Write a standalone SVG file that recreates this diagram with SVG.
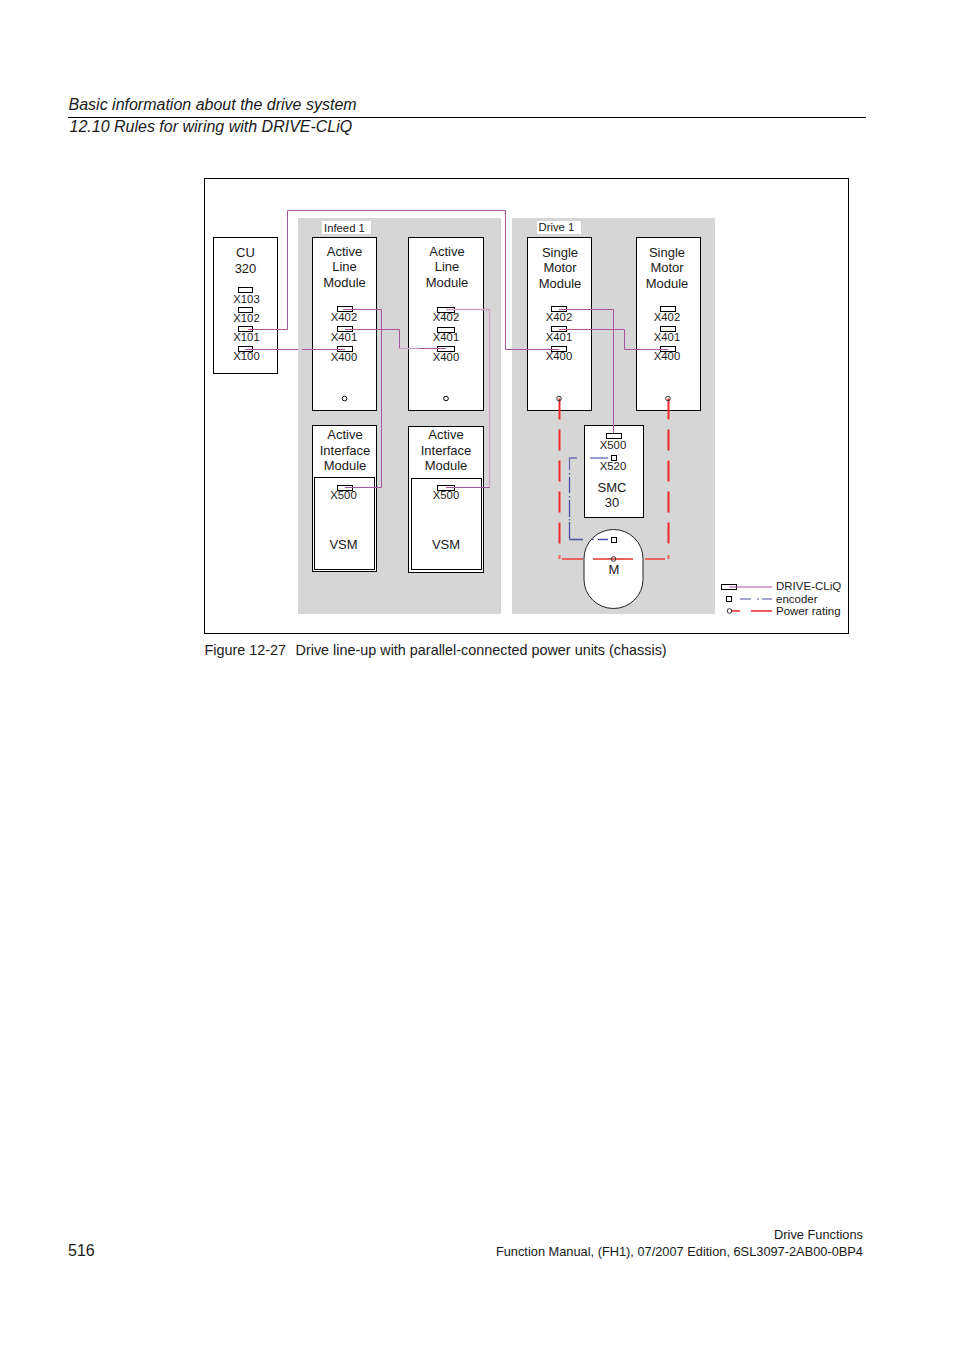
<svg xmlns="http://www.w3.org/2000/svg" width="954" height="1350" viewBox="0 0 954 1350">
<style>
text{font-family:"Liberation Sans",Arial,sans-serif;fill:#1a1a1a}
.n{font-size:13px;text-anchor:middle}
.p{font-size:11.300px;text-anchor:middle}
.l{font-size:11.500px}
.b{fill:#fff;stroke:#000;stroke-width:1}
.c{fill:#fff;stroke:#000;stroke-width:1}
.w{fill:none;stroke:#a9539b;stroke-width:1}
.wl{fill:none;stroke:#cda3c6;stroke-width:1.300}
.r{fill:none;stroke:#ee2a2a;stroke-width:2;stroke-dasharray:21 10}
.rh{fill:none;stroke:#e8645f;stroke-width:2}
.e{fill:none;stroke:#4a4fa8;stroke-width:1.300}
.t{fill:none;stroke:#000;stroke-width:1}
</style>
<rect width="954" height="1350" fill="#fff"/>
<g id="header">
<text x="68.500" y="110" font-size="16" font-style="italic">Basic information about the drive system</text>
<line x1="68" y1="117.500" x2="866" y2="117.500" stroke="#000" stroke-width="1"/>
<text x="69.500" y="132" font-size="16" font-style="italic">12.10 Rules for wiring with DRIVE-CLiQ</text>
</g>
<rect id="frame" x="204.500" y="178.500" width="644" height="455" fill="#fff" stroke="#000" stroke-width="1"/>
<g id="groups">
<rect x="298" y="218" width="203" height="396" fill="#d6d6d6"/>
<rect x="512" y="218" width="203" height="396" fill="#d6d6d6"/>
<rect x="322" y="221" width="49" height="13" fill="#fff"/>
<text x="324" y="232" font-size="11.300">Infeed 1</text>
<rect x="537" y="221" width="44" height="13" fill="#fff"/>
<text x="538.500" y="231" font-size="11.300">Drive 1</text>
</g>
<g id="cu320">
<rect class="b" x="213.500" y="237.500" width="64" height="136"/>
<text class="n" x="245.500" y="257">CU</text><text class="n" x="245.500" y="273">320</text>
<rect class="c" x="238.500" y="287.500" width="14" height="5"/><text class="p" x="246.500" y="303">X103</text>
<rect class="c" x="238.500" y="307.500" width="14" height="5"/><text class="p" x="246.500" y="322">X102</text>
<rect class="c" x="238.500" y="326.500" width="14" height="5"/><text class="p" x="246.500" y="341">X101</text>
<rect class="c" x="238.500" y="346.500" width="14" height="5"/><text class="p" x="246.500" y="360">X100</text>
</g>
<g id="alm1">
<rect class="b" x="312.500" y="237.500" width="64" height="173"/>
<text class="n" x="344.500" y="256">Active</text><text class="n" x="344.500" y="271">Line</text><text class="n" x="344.500" y="287">Module</text>
<rect class="c" x="337.500" y="306.500" width="15" height="5"/><text class="p" x="344" y="321">X402</text>
<rect class="c" x="337.500" y="326.500" width="15" height="5"/><text class="p" x="344" y="341">X401</text>
<rect class="c" x="337.500" y="346.500" width="15" height="5"/><text class="p" x="344" y="361">X400</text>
<circle cx="344.500" cy="398.500" r="2.300" fill="#fff" stroke="#000"/>
</g>
<g id="alm2">
<rect class="b" x="408.500" y="237.500" width="75" height="173"/>
<text class="n" x="447" y="256">Active</text><text class="n" x="447" y="271">Line</text><text class="n" x="447" y="287">Module</text>
<rect class="c" x="437.500" y="307.500" width="17" height="5"/><text class="p" x="446" y="321">X402</text>
<rect class="c" x="437.500" y="327.500" width="17" height="5"/><text class="p" x="446" y="341">X401</text>
<rect class="c" x="437.500" y="346.500" width="17" height="5"/><text class="p" x="446" y="361">X400</text>
<circle cx="446" cy="398.500" r="2.300" fill="#fff" stroke="#000"/>
</g>
<g id="smm1">
<rect class="b" x="527.500" y="237.500" width="64" height="173"/>
<text class="n" x="560" y="257">Single</text><text class="n" x="560" y="272">Motor</text><text class="n" x="560" y="288">Module</text>
<rect class="c" x="551.500" y="306.500" width="15" height="5"/><text class="p" x="559" y="321">X402</text>
<rect class="c" x="551.500" y="326.500" width="15" height="5"/><text class="p" x="559" y="341">X401</text>
<rect class="c" x="551.500" y="346.500" width="15" height="5"/><text class="p" x="559" y="360">X400</text>
</g>
<g id="smm2">
<rect class="b" x="636.500" y="237.500" width="64" height="173"/>
<text class="n" x="667" y="257">Single</text><text class="n" x="667" y="272">Motor</text><text class="n" x="667" y="288">Module</text>
<rect class="c" x="660.500" y="306.500" width="15" height="5"/><text class="p" x="667" y="321">X402</text>
<rect class="c" x="660.500" y="326.500" width="15" height="5"/><text class="p" x="667" y="341">X401</text>
<rect class="c" x="660.500" y="346.500" width="15" height="5"/><text class="p" x="667" y="360">X400</text>
</g>
<g id="aim1">
<rect class="b" x="312.500" y="425.500" width="64" height="146"/>
<text class="n" x="345" y="439">Active</text><text class="n" x="345" y="455">Interface</text><text class="n" x="345" y="470">Module</text>
<rect class="t" x="314.500" y="477.500" width="60" height="92"/>
<rect class="c" x="337.500" y="485.500" width="15" height="5"/><text class="p" x="343.500" y="499">X500</text>
<text class="n" x="343.500" y="549">VSM</text>
</g>
<g id="aim2">
<rect class="b" x="408.500" y="426.500" width="75" height="146"/>
<text class="n" x="446" y="439">Active</text><text class="n" x="446" y="455">Interface</text><text class="n" x="446" y="470">Module</text>
<rect class="t" x="411.500" y="478.500" width="70" height="91"/>
<rect class="c" x="437.500" y="485.500" width="17" height="5"/><text class="p" x="446" y="499">X500</text>
<text class="n" x="446" y="549">VSM</text>
</g>
<g id="smc30">
<rect class="b" x="584.500" y="425.500" width="59" height="92"/>
<rect class="c" x="606.500" y="433.500" width="15" height="5"/><text class="p" x="613" y="449">X500</text>
<rect class="c" x="611.500" y="455.500" width="5" height="5"/><text class="p" x="613" y="470">X520</text>
<text class="n" x="612" y="492">SMC</text><text class="n" x="612" y="507">30</text>
</g>
<g id="motor">
<rect x="584" y="529.500" width="59" height="79" rx="29.500" ry="29" fill="#fff" stroke="#222" stroke-width="1"/>
<rect class="c" x="611.500" y="537.500" width="5" height="5"/>
<text class="n" x="614" y="574">M</text>
</g>
<g id="connectors">
<path class="w" d="M248 329.500H287.500V210.500H505.500V349.500H559"/>
<path class="w" d="M245 349.500H298M302 349.500H345"/>
<path class="w" d="M343 309.500H381.500V487.500H345"/>
<path class="w" d="M345 329.500H399.500V348.500"/>
<path class="wl" d="M399.500 348.500H418"/>
<path class="w" d="M418 348.500H446"/>
<path class="wl" d="M446 309.500H489.500V487.500"/>
<path class="w" d="M489.500 487.500H446"/>
<path class="w" d="M559 309.500H613.500V433"/>
<path class="w" d="M559 329.500H624.500V349.500H668"/>
<path class="e" stroke-opacity=".75" stroke-width="1.600" d="M590 458H608M577 458H569.500V470"/>
<path class="e" d="M569.500 473V474.500M569.500 477V493M569.500 496V497.500M569.500 500V517M569.500 519V520.500M569.500 522V539"/>
<path class="e" stroke-width="1" d="M569.500 539.500H583M592 539.500H593.500M598 539.500H608"/>
<path class="r" d="M559.500 398.500V545"/>
<path class="r" d="M668.500 398.500V545"/>
<path class="rh" d="M559.500 555V559M668.500 555V559"/>
<path class="rh" d="M562 559H583M593 559H633M645 559H665"/>
<circle cx="559" cy="398.500" r="2.300" fill="none" stroke="#333"/>
<circle cx="668" cy="398.500" r="2.300" fill="none" stroke="#333"/>
<circle cx="613.500" cy="559" r="2.300" fill="none" stroke="#333"/>
</g>
<g id="legend">
<rect class="c" x="721.500" y="584.500" width="15" height="5"/>
<path class="w" d="M729 587H772"/>
<text class="l" x="776" y="590">DRIVE-CLiQ</text>
<rect class="c" x="726.500" y="596.500" width="5" height="5"/>
<path d="M740 599H751M757 599H759M762 599H772" fill="none" stroke="#4a4fa8" stroke-width="1.200"/>
<text class="l" x="776" y="603">encoder</text>
<circle cx="729.500" cy="611" r="2.300" fill="none" stroke="#333"/>
<path d="M732 611H740M751 611H772" fill="none" stroke="#e8262a" stroke-width="1.300"/>
<text class="l" x="776" y="615">Power rating</text>
</g>
<g id="caption">
<text x="204.500" y="655" font-size="14.400">Figure 12-27</text>
<text x="295.500" y="655" font-size="14.400">Drive line-up with parallel-connected power units (chassis)</text>
</g>
<g id="footer">
<text x="68" y="1256" font-size="16">516</text>
<text x="863" y="1239" font-size="12.800" text-anchor="end">Drive Functions</text>
<text x="863" y="1256" font-size="12.800" text-anchor="end">Function Manual, (FH1), 07/2007 Edition, 6SL3097-2AB00-0BP4</text>
</g>
</svg>
